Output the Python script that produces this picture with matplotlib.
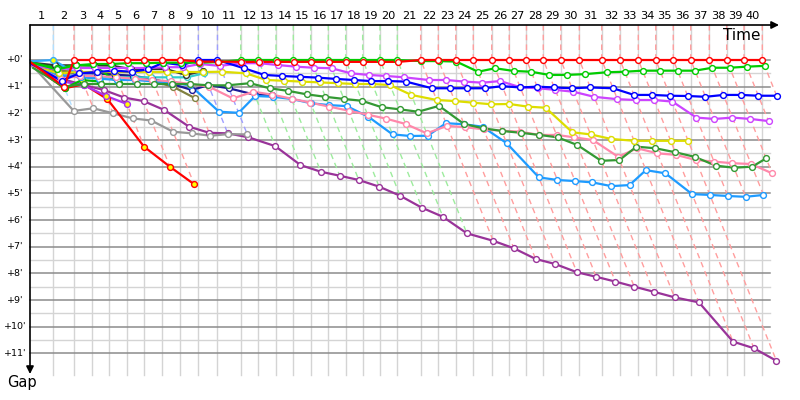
import matplotlib
matplotlib.use('Agg')
import matplotlib.pyplot as plt
from matplotlib.colors import to_rgb

# ---------------- data ----------------
# leader's elapsed time (minutes) at the end of each lap, lap 0 = start
lap_times = [0, 2.18, 4.11, 5.77, 7.41, 9.07, 10.68, 12.36, 14.02, 15.73, 17.52,
             19.69, 21.34, 22.99, 24.61, 26.23, 27.88, 29.50, 31.09, 32.71, 34.33,
             36.51, 38.16, 39.79, 41.43, 43.15, 44.79, 46.40, 47.97, 49.60, 51.34,
             53.43, 55.14, 56.85, 58.48, 60.12, 61.75, 63.49, 65.11, 66.73, 68.44]
lap_labels = [str(i) for i in range(1, 41)]
gap_ticks = list(range(0, 12))

# gaps to the leader (minutes) per lap, starting with lap 0
red = [0.1, 1.0, 0, 0, 0, 0, 0, 0, 0, 0.06, 0.06,
       0.07, 0.07, 0.07, 0.07, 0.07, 0.07, 0.07, 0.07, 0.07, 0.07,
       0, 0, 0, 0, 0, 0, 0, 0, 0, 0, 0, 0, 0, 0, 0, 0, 0, 0, 0, 0]
green = [0.1, 0.35, 0.2, 0.15, 0.15, 0.12, 0.12, 0.1, 0.1, 0.1, 0.08,
         0, 0, 0, 0, 0, 0, 0, 0, 0, 0,
         0.04, 0.04, 0.06, 0.44, 0.31, 0.41, 0.44, 0.56, 0.56, 0.53,
         0.46, 0.44, 0.40, 0.40, 0.40, 0.40, 0.29, 0.29, 0.25, 0.22]
blue = [0.15, 0.78, 0.5, 0.45, 0.4, 0.44, 0.35, 0.1, 0.19, 0, 0,
        0.31, 0.56, 0.6, 0.63, 0.66, 0.71, 0.75, 0.79, 0.79, 0.81,
        1.06, 1.06, 1.06, 1.06, 0.98, 1.03, 1.0, 1.03, 1.06, 1.03,
        1.06, 1.31, 1.31, 1.34, 1.35, 1.38, 1.31, 1.31, 1.34, 1.34]
violet = [0.2, 0.35, 0.3, 0.3, 0.3, 0.3, 0.3, 0.27, 0.27, 0.15, 0.22,
          0.12, 0.12, 0.19, 0.25, 0.29, 0.31, 0.5, 0.56, 0.6, 0.65,
          0.75, 0.75, 0.81, 0.85, 0.79, 1.02, 1.06, 1.12, 1.19, 1.38,
          1.47, 1.5, 1.5, 1.56, 2.16, 2.21, 2.16, 2.21, 2.29]
yellow = [0.2, 0.5, 0.45, 0.45, 0.45, 0.45, 0.45, 0.45, 0.45, 0.45, 0.44,
          0.5, 0.75, 0.78, 0.81, 0.84, 0.87, 0.9, 0.9, 0.94, 1.31,
          1.5, 1.54, 1.6, 1.66, 1.65, 1.75, 1.79, 2.71, 2.79, 2.96,
          3.03, 3.03, 3.03, 3.03]
pink = [0.25, 0.7, 0.6, 0.6, 0.65, 0.7, 0.75, 0.8, 0.9, 1.0, 1.44,
        1.19, 1.3, 1.45, 1.6, 1.75, 1.9, 2.05, 2.2, 2.4, 2.75,
        2.47, 2.52, 2.6, 2.65, 2.69, 2.81, 2.81, 2.9, 3.0, 3.63,
        3.31, 3.5, 3.56, 3.75, 3.81, 3.87, 3.9, 4.25]
darkgreen = [0.3, 1.0, 0.9, 0.9, 0.9, 0.9, 0.9, 0.9, 0.9, 0.95, 0.95,
             0.87, 1.06, 1.16, 1.29, 1.38, 1.46, 1.53, 1.77, 1.85, 1.94,
             1.72, 2.4, 2.56, 2.66, 2.73, 2.81, 2.9, 3.19, 3.78, 3.75,
             3.25, 3.31, 3.46, 3.63, 3.96, 4.04, 4.0, 3.69]
dodger = [0.25, 0.6, 0.65, 0.7, 0.75, 0.75, 0.8, 0.85, 0.95, 1.94, 1.98,
          1.35, 1.38, 1.46, 1.62, 1.69, 1.73, 2.13, 2.79, 2.85, 2.84,
          2.37, 2.41, 2.5, 3.12, 4.4, 4.5, 4.54, 4.59, 4.73, 4.69,
          4.13, 4.25, 5.03, 5.06, 5.1, 5.13, 5.06]
purple = [0.2, 0.7, 0.94, 1.125, 1.41, 1.54, 1.875, 2.5, 2.73, 2.75, 2.9,
          3.23, 3.94, 4.19, 4.34, 4.5, 4.75, 5.09, 5.54, 5.88, 6.5,
          6.78, 7.06, 7.46, 7.65, 7.96, 8.13, 8.31, 8.5, 8.69, 8.9,
          9.09, 10.56, 10.81, 11.28]
gray = [0.2, 1.91, 1.81, 2.0, 2.19, 2.27, 2.69, 2.75, 2.84, 2.78, 2.79]
red_y = [0.2, 1.06, 0.91, 1.47, 3.25, 4.0, 4.66]
violet_y = [0.2, 0.8, 0.95, 1.35, 1.65]
green_y = [0.1, 0.3, 0.19, 0.21, 0.87]
green_y2 = [0.2, 1.06, 0.75, 0.81]
darkgray = [0.1, 0.2, 0.2, 0.2, 0.21, 0.34, 0.34, 0.34, 0.56, 0.41]
teal = [0.2, 0.6, 0.6, 0.65, 0.65, 0.65, 0.65, 0.65, 0.65, 0.5]
olive = [0.2, 0.4, 0.45, 0.5, 0.55, 0.6, 0.8, 1.0, 1.44]
navy = [0.2, 0.5, 0.5, 0.5, 0.55, 0.6, 0.7, 0.9, 1.125, 0.94, 1.06, 1.3, 1.3]
lightblue_y = [0.05, 0, 0.6, 0.6]

# (gaps, line colour, marker face)
series = [
    (purple, '#993399', 'white'),
    (gray, '#999999', 'white'),
    (olive, '#808040', 'white'),
    (navy, '#1a1a99', 'white'),
    (teal, '#33cccc', 'white'),
    (darkgray, '#333333', 'white'),
    (red_y, '#ff0000', '#ffff00'),
    (violet_y, '#aa33ee', '#ffff00'),
    (green_y2, '#00bb00', '#ffff00'),
    (green_y, '#00bb00', '#ffff00'),
    (lightblue_y, '#33aaff', '#ffff00'),
    (dodger, '#1e9bff', 'white'),
    (pink, '#ff88aa', 'white'),
    (darkgreen, '#339933', 'white'),
    (yellow, '#dddd00', 'white'),
    (violet, '#cc44ff', 'white'),
    (blue, '#0000ff', 'white'),
    (green, '#00cc00', 'white'),
    (red, '#ff0000', 'white'),
]

# ---------------- layout ----------------
PXX, PXY = 10.7, 26.667          # pixels per minute (x: time, y: gap)
X0, Y0 = 30, 60                   # pixel of time 0 / gap 0

fig = plt.figure(figsize=(8, 4), dpi=100)
ax = fig.add_axes([0, 0, 1, 1])
ax.set_xlim(-X0 / PXX, (800 - X0) / PXX)
ax.set_ylim((400 - Y0) / PXY, -Y0 / PXY)
ax.axis('off')

def px(v):
    return (v - X0) / PXX

def py(v):
    return (v - Y0) / PXY

top = py(25)
x_end = px(770)
# horizontal grid
for m in gap_ticks:
    ax.plot([0, x_end], [m, m], color='#8c8c8c', lw=1.1, zorder=1)
    if m < gap_ticks[-1]:
        ax.plot([0, x_end], [m + 0.5, m + 0.5], color='#d4d4d4', lw=1.0, zorder=0.9)
# vertical grid
for t in lap_times[1:]:
    ax.plot([t, t], [top, py(375)], color='#d4d4d4', lw=1.0, zorder=0.8)

# lap lines (dashed): from leader's lap mark through every car's lap point
for n in range(1, len(lap_times)):
    pts = []
    for g, c, f in series:
        if len(g) > n:
            pts.append((g[n], lap_times[n] + g[n], c))
    pts.sort(key=lambda p: p[0])
    lead_col = to_rgb(pts[0][2])
    light = tuple(1 - 0.38 * (1 - v) for v in lead_col)
    xs = [lap_times[n]] + [p[1] for p in pts]
    ys = [top] + [p[0] for p in pts]
    ax.plot(xs, ys, color=light, lw=1.0, ls=(0, (4, 3)), zorder=2)

# series
for g, c, f in series:
    xs = [lap_times[i] + g[i] for i in range(len(g))]
    ax.plot(xs, g, color=c, lw=1.6, zorder=3, solid_joinstyle='round')
    ax.plot(xs[1:], g[1:], ls='none', marker='o', ms=4.2, mfc=f, mec=c,
            mew=1.0, zorder=4)

# axes with arrows
ax.annotate('', xy=(px(779), top), xytext=(0, top),
            arrowprops=dict(arrowstyle='-|>', color='black', lw=1.2,
                            mutation_scale=11, shrinkA=0, shrinkB=0), zorder=6)
ax.annotate('', xy=(0, py(374)), xytext=(0, top),
            arrowprops=dict(arrowstyle='-|>', color='black', lw=1.2,
                            mutation_scale=11, shrinkA=0, shrinkB=0), zorder=6)

# lap labels
for i, lab in enumerate(lap_labels):
    xm = (lap_times[i] + lap_times[i + 1]) / 2
    ax.text(xm, py(16), lab, ha='center', va='center', fontsize=8.2,
            family='DejaVu Sans')
# gap labels
for m in gap_ticks:
    ax.text(px(15), m, "+%d'" % m, ha='center', va='center', fontsize=6.8,
            family='DejaVu Sans')

ax.text(px(742), py(35), 'Time', ha='center', va='center', fontsize=11)
ax.text(px(22), py(383), 'Gap', ha='center', va='center', fontsize=10.5)

fig.savefig('out.png', dpi=100)
